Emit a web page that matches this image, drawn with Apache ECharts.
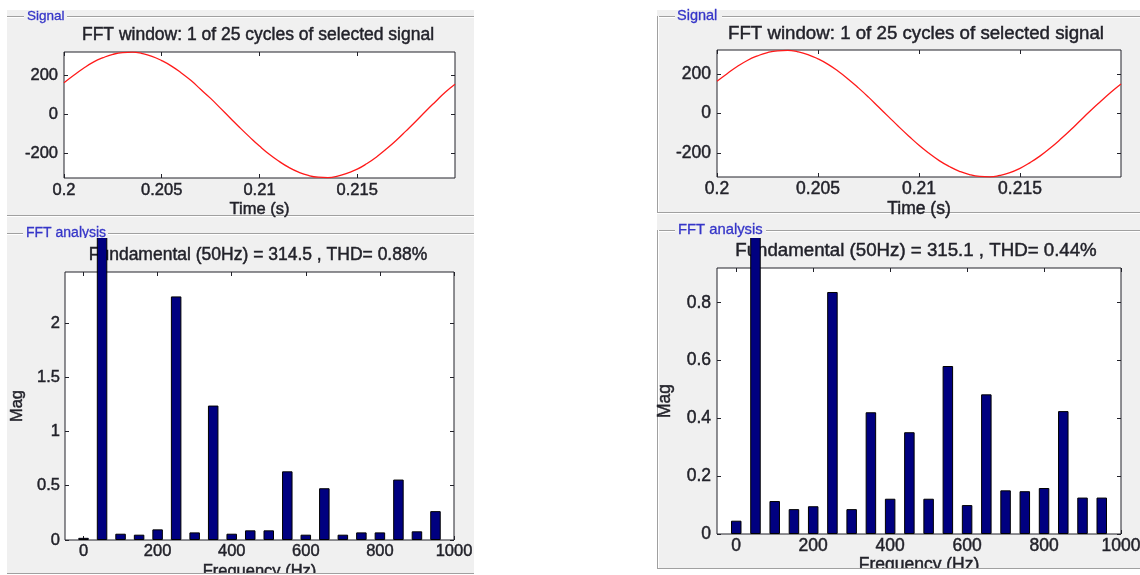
<!DOCTYPE html>
<html>
<head>
<meta charset="utf-8">
<script src="https://cdn.jsdelivr.net/npm/echarts@6/dist/echarts.min.js"></script>
<style>
  html, body { margin: 0; padding: 0; background: #fff; width: 1140px; height: 575px; overflow: hidden; }
  #top { position: absolute; left: 0; top: 0; width: 1140px; height: 238px; }
  #bottom { position: absolute; left: 0; top: 238px; width: 1140px; height: 337px; }
</style>
</head>
<body>
<div id="top"></div>
<div id="bottom"></div>
<script>
// ---- signal window (one 50 Hz cycle) ----
const timeS = [0.2, 0.2005, 0.201, 0.2015, 0.202, 0.2025, 0.203, 0.2035, 0.204, 0.2045,
  0.205, 0.2055, 0.206, 0.2065, 0.207, 0.2075, 0.208, 0.2085, 0.209, 0.2095,
  0.21, 0.2105, 0.211, 0.2115, 0.212, 0.2125, 0.213, 0.2135, 0.214, 0.2145,
  0.215, 0.2155, 0.216, 0.2165, 0.217, 0.2175, 0.218, 0.2185, 0.219, 0.2195, 0.22];
const voltA = [163, 201, 237, 268, 291, 308, 317, 319, 312, 298,
  276, 248, 213, 174, 128, 83, 33, -17, -67, -115,
  -161, -203, -239, -270, -294, -311, -320, -322, -315, -299,
  -279, -250, -215, -175, -131, -83, -34, 17, 66, 114, 155];
const voltB = [164, 202, 238, 269, 292, 309, 318, 320, 313, 299,
  277, 249, 214, 174, 130, 83, 33, -17, -67, -115,
  -161, -202, -239, -269, -293, -310, -319, -321, -314, -300,
  -278, -249, -215, -175, -131, -84, -34, 15, 62, 108, 150];

// ---- harmonic spectrum ----
const freqHz = [0, 50, 100, 150, 200, 250, 300, 350, 400, 450,
  500, 550, 600, 650, 700, 750, 800, 850, 900, 950];
const fundA = 314.5, thdA = 0.88;
const fundB = 315.1, thdB = 0.44;
const magA = [0.02, fundA, 0.058, 0.049, 0.098, 2.245, 0.07, 1.239, 0.058, 0.089,
  0.089, 0.633, 0.049, 0.477, 0.049, 0.07, 0.07, 0.557, 0.08, 0.266];
const magB = [0.046, fundB, 0.114, 0.086, 0.096, 0.837, 0.086, 0.421, 0.122, 0.352,
  0.122, 0.581, 0.1, 0.483, 0.151, 0.148, 0.159, 0.425, 0.126, 0.126];

// ---- tick labels ----
const timeTicks = [0.2, 0.205, 0.21, 0.215];
const voltTicks = [-200, 0, 200];
const freqTicks = [0, 200, 400, 600, 800, 1000];
const magTicksA = [0, 0.5, 1, 1.5, 2];
const magTicksB = [0, 0.2, 0.4, 0.6, 0.8];

const FONT = 'Liberation Sans, Arial, sans-serif';
const TEXT = '#22222a';
const PANEL_BG = '#f0f0f0';
const ETCH = '#a0a0a0';
const LABEL_BLUE = '#3535c8';
const STROKE = 0.45;

function hline(x1, x2, y, z) {
  const zz = z === undefined ? -5 : z;
  return [
    { type: 'line', z: zz, shape: { x1: x1, y1: y + 0.5, x2: x2, y2: y + 0.5 }, style: { stroke: ETCH, lineWidth: 1 } },
    { type: 'line', z: zz, shape: { x1: x1, y1: y + 1.5, x2: x2, y2: y + 1.5 }, style: { stroke: '#fff', lineWidth: 1 } }
  ];
}
function vline(x, y1, y2, z) {
  const zz = z === undefined ? -5 : z;
  return [
    { type: 'line', z: zz, shape: { x1: x + 0.5, y1: y1, x2: x + 0.5, y2: y2 }, style: { stroke: ETCH, lineWidth: 1 } },
    { type: 'line', z: zz, shape: { x1: x + 1.5, y1: y1, x2: x + 1.5, y2: y2 }, style: { stroke: '#fff', lineWidth: 1 } }
  ];
}
function panelText(text, x, y, size) {
  return { type: 'text', z: -4, x: x, y: y,
    style: { text: text, fill: LABEL_BLUE, fontSize: size, fontFamily: FONT, verticalAlign: 'middle', align: 'left',
      stroke: LABEL_BLUE, lineWidth: 0.3 } };
}
function rect(x, y, w, h, fill, z) {
  return { type: 'rect', z: z, shape: { x: x, y: y, width: w, height: h }, style: { fill: fill } };
}
function txt(fs) {
  return { fontSize: fs, color: TEXT, fontFamily: FONT, fontWeight: 'normal', textBorderColor: TEXT, textBorderWidth: STROKE };
}

// Boxed axes: ticks inside on all four sides, labels bottom/left only.
function boxAxes(gi, cfg) {
  const tick = (vals) => ({ show: true, inside: true, length: 4, customValues: vals, lineStyle: { color: TEXT, width: 1 } });
  const label = (vals, margin) => Object.assign({ show: true, customValues: vals, margin: margin,
    formatter: (v) => String(v) }, txt(cfg.fs));
  const line = { show: false, onZero: false };
  const xAxis = [
    { type: 'value', gridIndex: gi, position: 'bottom', min: cfg.xMin, max: cfg.xMax,
      axisLine: line, splitLine: { show: false },
      axisTick: tick(cfg.xTicks), axisLabel: label(cfg.xTicks, cfg.xMargin),
      name: cfg.xName, nameLocation: 'middle', nameGap: cfg.xNameGap, nameMoveOverlap: false, nameTextStyle: txt(cfg.fs) },
    { type: 'value', gridIndex: gi, position: 'top', min: cfg.xMin, max: cfg.xMax,
      axisLine: line, splitLine: { show: false },
      axisTick: tick(cfg.xTicks), axisLabel: { show: false } }
  ];
  const yAxis = [
    { type: 'value', gridIndex: gi, position: 'left', min: cfg.yMin, max: cfg.yMax,
      axisLine: line, splitLine: { show: false },
      axisTick: tick(cfg.yTicks), axisLabel: label(cfg.yTicks, cfg.yMargin),
      name: cfg.yName || '', nameLocation: 'middle', nameGap: cfg.yNameGap || 0, nameMoveOverlap: false, nameTextStyle: txt(cfg.fs) },
    { type: 'value', gridIndex: gi, position: 'right', min: cfg.yMin, max: cfg.yMax,
      axisLine: line, splitLine: { show: false },
      axisTick: tick(cfg.yTicks), axisLabel: { show: false } }
  ];
  return { xAxis: xAxis, yAxis: yAxis };
}

function titleAt(text, x, y, fs) {
  return { text: text, left: x, top: y, textAlign: 'center', textVerticalAlign: 'middle', padding: 0,
    textStyle: txt(fs) };
}

const gridBox = { show: true, borderColor: TEXT, borderWidth: 1, backgroundColor: '#fff', outerBoundsMode: 'none', containLabel: false };

// ================= upper row: time-domain signal =================
const sigA = boxAxes(0, { fs: 16.5, xMin: 0.2, xMax: 0.22, xTicks: timeTicks, xMargin: 4, xName: 'Time (s)', xNameGap: 23,
  yMin: -324, yMax: 320, yTicks: voltTicks, yMargin: 6 });
const sigB = boxAxes(1, { fs: 17.5, xMin: 0.2, xMax: 0.22, xTicks: timeTicks, xMargin: 3, xName: 'Time (s)', xNameGap: 23,
  yMin: -322, yMax: 322, yTicks: voltTicks, yMargin: 6 });

const topGraphics = [].concat(
  [rect(7, 10, 467, 228, PANEL_BG, -10), rect(657, 10, 483, 228, PANEL_BG, -10)],
  hline(7, 24, 16), hline(67, 474, 16), [panelText('Signal', 27, 16, 13.5)],
  hline(7, 474, 215),
  hline(7, 23, 233), hline(108, 474, 233), [panelText('FFT analysis', 26, 233, 14)],
  hline(657, 675, 16), hline(722, 1140, 16), [panelText('Signal', 677, 16, 14.5)],
  vline(657, 16, 213), hline(657, 1140, 212),
  hline(657, 675, 230), hline(766, 1140, 230), [panelText('FFT analysis', 678, 230, 14.8)],
  vline(657, 230, 238)
);

const topChart = echarts.init(document.getElementById('top'), null, { renderer: 'canvas' });
topChart.setOption({
  animation: false,
  backgroundColor: '#fff',
  graphic: { elements: topGraphics },
  title: [
    titleAt('FFT window: 1 of 25 cycles of selected signal', 258, 35, 17.5),
    titleAt('FFT window: 1 of 25 cycles of selected signal', 916, 34, 18.7)
  ],
  grid: [
    Object.assign({ left: 64, top: 52, width: 391, height: 126 }, gridBox),
    Object.assign({ left: 717, top: 50, width: 404, height: 127 }, gridBox)
  ],
  xAxis: sigA.xAxis.concat(sigB.xAxis),
  yAxis: sigA.yAxis.concat(sigB.yAxis),
  series: [
    { type: 'line', xAxisIndex: 0, yAxisIndex: 0, showSymbol: false, smooth: true,
      lineStyle: { color: '#ff1a1a', width: 1.3 }, data: timeS.map((t, i) => [t, voltA[i]]) },
    { type: 'line', xAxisIndex: 2, yAxisIndex: 2, showSymbol: false, smooth: true,
      lineStyle: { color: '#ff1a1a', width: 1.3 }, data: timeS.map((t, i) => [t, voltB[i]]) }
  ]
});

// ================= lower row: FFT magnitude =================
const fftA = boxAxes(0, { fs: 16.5, xMin: -50, xMax: 1000, xTicks: freqTicks, xMargin: 3, xName: 'Frequency (Hz)', xNameGap: 23,
  yMin: 0, yMax: 2.47, yTicks: magTicksA, yMargin: 5, yName: 'Mag', yNameGap: 39 });
const fftB = boxAxes(1, { fs: 17.5, xMin: -50, xMax: 1000, xTicks: freqTicks, xMargin: 3, xName: 'Frequency (Hz)', xNameGap: 22,
  yMin: 0, yMax: 0.92, yTicks: magTicksB, yMargin: 6, yName: 'Mag', yNameGap: 43 });

const bottomGraphics = [].concat(
  [rect(7, 0, 467, 335, PANEL_BG, -10), rect(657, 0, 483, 330, PANEL_BG, -10)],
  [rect(0, 336, 480, 10, '#fff', 100), rect(650, 331, 490, 10, '#fff', 100)],
  hline(7, 474, 335, 101),
  vline(657, 0, 331, -5), hline(657, 1140, 330, 101)
);

const barStyle = { color: '#000080', borderColor: '#000', borderWidth: 1 };
const bottomChart = echarts.init(document.getElementById('bottom'), null, { renderer: 'canvas' });
bottomChart.setOption({
  animation: false,
  backgroundColor: 'transparent',
  graphic: { elements: bottomGraphics },
  title: [
    titleAt('Fundamental (50Hz) = ' + fundA + ' , THD= ' + thdA.toFixed(2) + '%', 258, 17, 17.5),
    titleAt('Fundamental (50Hz) = ' + fundB + ' , THD= ' + thdB.toFixed(2) + '%', 916, 13, 18.7)
  ],
  grid: [
    Object.assign({ left: 65, top: 34, width: 389, height: 268 }, gridBox),
    Object.assign({ left: 717, top: 30, width: 404, height: 266 }, gridBox)
  ],
  xAxis: fftA.xAxis.concat(fftB.xAxis),
  yAxis: fftA.yAxis.concat(fftB.yAxis),
  series: [
    { type: 'bar', xAxisIndex: 0, yAxisIndex: 0, barWidth: 10.5, clip: false, z: 10,
      itemStyle: barStyle, data: freqHz.map((f, i) => [f, magA[i]]) },
    { type: 'bar', xAxisIndex: 2, yAxisIndex: 2, barWidth: 10.5, clip: false, z: 10,
      itemStyle: barStyle, data: freqHz.map((f, i) => [f, magB[i]]) }
  ]
});
</script>
</body>
</html>
